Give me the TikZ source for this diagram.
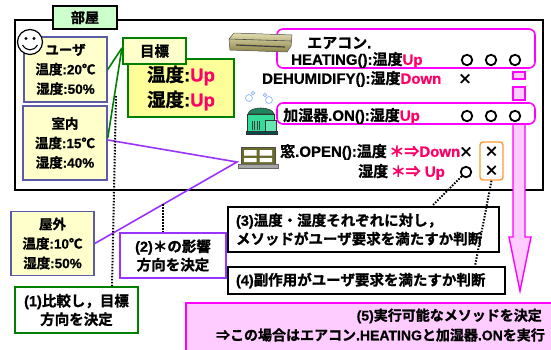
\documentclass[tikz,border=0pt]{standalone}
\usepackage{fontspec}
\setmainfont{Noto Sans CJK JP}[BoldFont={Noto Sans CJK JP Bold}, BoldFeatures={FakeBold=1.2}]
\newfontfamily\latfont{Liberation Sans}[BoldFeatures={FakeBold=0.8}]
\newcommand\ltn[1]{{\latfont #1}}
\usetikzlibrary{calc}

\definecolor{upred}{HTML}{FF0066}
\definecolor{paleyel}{HTML}{FFFFCC}
\definecolor{goalyel}{HTML}{FFFF99}
\definecolor{grn}{HTML}{008000}
\definecolor{bluebord}{HTML}{5B5BA8}
\definecolor{violet}{HTML}{9933FF}
\definecolor{mag}{HTML}{FF00FF}
\definecolor{pinkfill}{HTML}{FFCCFF}
\definecolor{orng}{HTML}{FF9933}
\definecolor{titlegrn}{HTML}{CCFFCC}
\definecolor{acLight}{HTML}{E2DDB0}
\definecolor{acDark}{HTML}{8C8448}
\definecolor{humgreen}{HTML}{33DD99}
\definecolor{steam}{HTML}{99BBFF}
\definecolor{winframe}{HTML}{6B6B2B}

\tikzset{
  txt/.style={font=\bfseries\fontsize{15}{17}\selectfont, inner sep=0pt},
  infobox/.style={draw=bluebord, line width=1.5pt, fill=paleyel, align=center,
    font=\bfseries\fontsize{13.5}{19.5}\selectfont, inner sep=0pt},
  stepbox/.style={draw=black, line width=2pt, fill=white, inner sep=0pt,
    font=\bfseries\fontsize{14.5}{18.5}\selectfont},
  methodbox/.style={draw=mag, line width=1.6pt, rounded corners=6pt, fill=white},
  okmark/.style={circle, draw=black, line width=1.8pt, minimum size=10.5pt, inner sep=0pt},
  ngmark/.style={inner sep=0pt, font=\bfseries\fontsize{14}{19}\selectfont},
  dotline/.style={black, line width=2pt, dash pattern=on 1.5pt off 1.5pt},
  pinkshape/.style={fill=pinkfill, draw=mag, line width=1.4pt},
}

\begin{document}
\begin{tikzpicture}[x=1pt, y=-1pt]
\useasboundingbox (0,0) rectangle (551,349);

% room frame and its title tab
\node[draw, line width=2.2pt, minimum width=528pt, minimum height=170pt] (room) at (279,105) {};
\node[draw, line width=2.2pt, fill=titlegrn, minimum width=64pt, minimum height=23pt,
      font=\bfseries\fontsize{14}{16}\selectfont, inner sep=0pt] (title) at (85,17.5) {部屋};

% condition boxes
\node[infobox, minimum width=83pt, minimum height=65pt] (user) at (65.5,69.5)
  {ユーザ\\温度\ltn{:20}℃\\湿度\ltn{:50\%}};
\node[infobox, minimum width=84pt, minimum height=74pt] (indoor) at (65,143)
  {室内\\温度\ltn{:15}℃\\湿度\ltn{:40\%}};
\node[infobox, minimum width=83pt, minimum height=64pt] (outdoor) at (52.5,243.5)
  {屋外\\温度\ltn{:10}℃\\湿度\ltn{:50\%}};

% smiley face
\draw[line width=1.2pt, fill=white] (30,42) circle (12.5);
\fill (26,38.5) circle (1.6);
\fill (34,38.5) circle (1.6);
\draw[line width=1.1pt] (22.5,45) .. controls (26.5,51.5) and (33.5,51.5) .. (37.5,45);

% goal
\node[draw=grn, line width=2.2pt, fill=goalyel, minimum width=106pt, minimum height=58pt,
      align=center, inner sep=0pt, font=\bfseries\fontsize{18.5}{25}\selectfont] (goal) at (181,88)
      {温度\ltn{:}\textcolor{upred}{\ltn{Up}}\\湿度\ltn{:}\textcolor{upred}{\ltn{Up}}};
\node[draw=grn, line width=2.2pt, fill=paleyel, minimum width=63pt, minimum height=26pt,
      inner sep=0pt, font=\bfseries\fontsize{14.5}{16}\selectfont] (goallab) at (154.5,51) {目標};

\draw[grn, line width=1.6pt] (user.east) -- ([yshift=3pt]goallab.west);
\draw[grn, line width=1.6pt] ([yshift=5pt]indoor.east) -- ([yshift=3pt]goallab.west);

% window influence lines
\coordinate (win) at (237,162);
\draw[violet, line width=1.6pt] ([yshift=3pt]indoor.east) -- (win) -- (outdoor.east);

% pink flow arrow
\filldraw[pinkshape] (513,72) rectangle (525,79);
\filldraw[pinkshape] (513,87) rectangle (525,100);
\filldraw[pinkshape] (513,110) -- (513,237) -- (509,237) -- (520,291) -- (531,237) -- (525,237) -- (525,110) -- cycle;

% method rows
\node[methodbox, minimum width=258pt, minimum height=39pt] (acrow) at (406,48.5) {};
\node[methodbox, minimum width=258pt, minimum height=21pt] (humrow) at (406,113.5) {};

\node[txt, anchor=west] (actxt) at (307,43) {エアコン\ltn{.}};
\node[txt, anchor=west] (heat) at (291,60) {\ltn{HEATING():}温度\textcolor{upred}{\ltn{Up}}};
\node[txt, anchor=west] (dehum) at (262,79) {\ltn{DEHUMIDIFY():}湿度\textcolor{upred}{\ltn{Down}}};
\node[txt, anchor=west] (humon) at (283,116) {加湿器\ltn{.ON():}湿度\textcolor{upred}{\ltn{Up}}};
\node[txt, anchor=west] (wopen) at (280,152) {窓\ltn{.OPEN():}温度\,\textcolor{upred}{＊⇒\ltn{Down}}};
\node[txt, anchor=west] (wopen2) at (358,172) {湿度\,\textcolor{upred}{＊⇒\ltn{ Up}}};

\node[okmark] (o1) at (467,60) {};
\node[okmark] (o2) at (491,60) {};
\node[okmark] (o3) at (515,60) {};
\node[okmark] (o4) at (467,116) {};
\node[okmark] (o5) at (491,116) {};
\node[okmark] (o6) at (515,116) {};
\node[okmark] (o7) at (466,172) {};
\node[ngmark] (x1) at (465,79) {×};
\node[ngmark] (x2) at (466,152) {×};

\node[draw=orng, line width=1.4pt, rounded corners=3pt, fill=white, minimum width=23pt,
      minimum height=38pt, align=center, inner sep=0pt,
      font=\bfseries\fontsize{14}{19}\selectfont] (sidefx) at (491.5,161) {×\\×};

% air conditioner icon
\filldraw[draw=black!60, line width=0.5pt, top color=acLight, bottom color=acDark]
  (229,39) -- (234,33) -- (292,35) -- (291,46) -- (287,52) -- (230,50) -- cycle;
\draw[black!70, line width=0.6pt] (229,39) -- (291,41);
\draw[black!75, line width=1.2pt] (236,45) -- (285,47);

% humidifier icon
\draw[steam, line width=0.8pt] (249,98) circle (3.5) (253,93) circle (1.8)
  (269,100) circle (3.5) (265,95) circle (1.8);
\filldraw[fill=humgreen!60!black, draw=black!80, line width=0.6pt]
  (248,114) .. controls (249,106) and (272,106) .. (274,114) -- cycle;
\filldraw[fill=humgreen, draw=black!80, line width=0.6pt]
  (247,114) rectangle (274,131);
\filldraw[fill=humgreen!75!white, draw=black!80, line width=0.6pt]
  (265,120) rectangle (276,131);
\foreach \gx in {252,254.5,257,259.5} \draw[black!75, line width=0.8pt] (\gx,121) -- (\gx,130);
\filldraw[fill=teal!60!black, draw=black!80, line width=0.6pt] (246,131) rectangle (277,134);

% window icon
\filldraw[fill=winframe, draw=black!70, line width=0.5pt] (241,147) rectangle (275,164);
\fill[white] (244,150) rectangle (256.5,155.5) (259.5,150) rectangle (272,155.5)
  (244,158) rectangle (256.5,162) (259.5,158) rectangle (272,162);
\filldraw[fill=black!35, draw=black!60, line width=0.5pt] (238,164) rectangle (278,168);

% step boxes
\node[stepbox, draw=grn, minimum width=123pt, minimum height=46pt, align=center] (cmp) at (76.5,310)
  {\ltn{(1)}比較し，目標\\方向を決定};
\node[stepbox, draw=violet, minimum width=106pt, minimum height=45pt, align=center] (infl) at (173,255.5)
  {\ltn{(2)}＊の影響\\方向を決定};
\node[stepbox, text width=255pt, inner xsep=8pt, minimum height=45pt, align=left] (judge) at (363.5,229.5)
  {\ltn{(3)}温度・湿度それぞれに対し，\\メソッドがユーザ要求を満たすか判断};
\node[stepbox, text width=261pt, inner xsep=8pt, minimum height=27pt, align=left] (side) at (366.5,280.5)
  {\ltn{(4)}副作用がユーザ要求を満たすか判断};

\node[draw=mag, fill=pinkfill, line width=1.8pt, minimum width=375pt, minimum height=58pt,
      anchor=north west] (decide) at (185,302) {};
\node[txt, anchor=east, font=\bfseries\fontsize{14}{16}\selectfont] (dec1) at (542,316)
  {\ltn{(5)}実行可能なメソッドを決定};
\node[txt, anchor=east, font=\bfseries\fontsize{14}{16}\selectfont] (dec2) at (545,335)
  {⇒この場合はエアコン\ltn{.HEATING}と加湿器\ltn{.ON}を実行};

% dotted leaders
\coordinate (c1) at (116,96);
\coordinate (x112) at (112,0);
\draw[dotline] (c1) -- (cmp.north -| x112);
\coordinate (c2) at ($(win)!0.517!(outdoor.east)$);
\draw[dotline] (c2) -- (c2 |- infl.north);
\coordinate (x432) at (432,0);
\draw[dotline] (o7.south west) -- (judge.north -| x432);
\coordinate (x475) at (475,0);
\draw[dotline] (sidefx.south) -- (side.north -| x475);
\end{tikzpicture}
\end{document}
